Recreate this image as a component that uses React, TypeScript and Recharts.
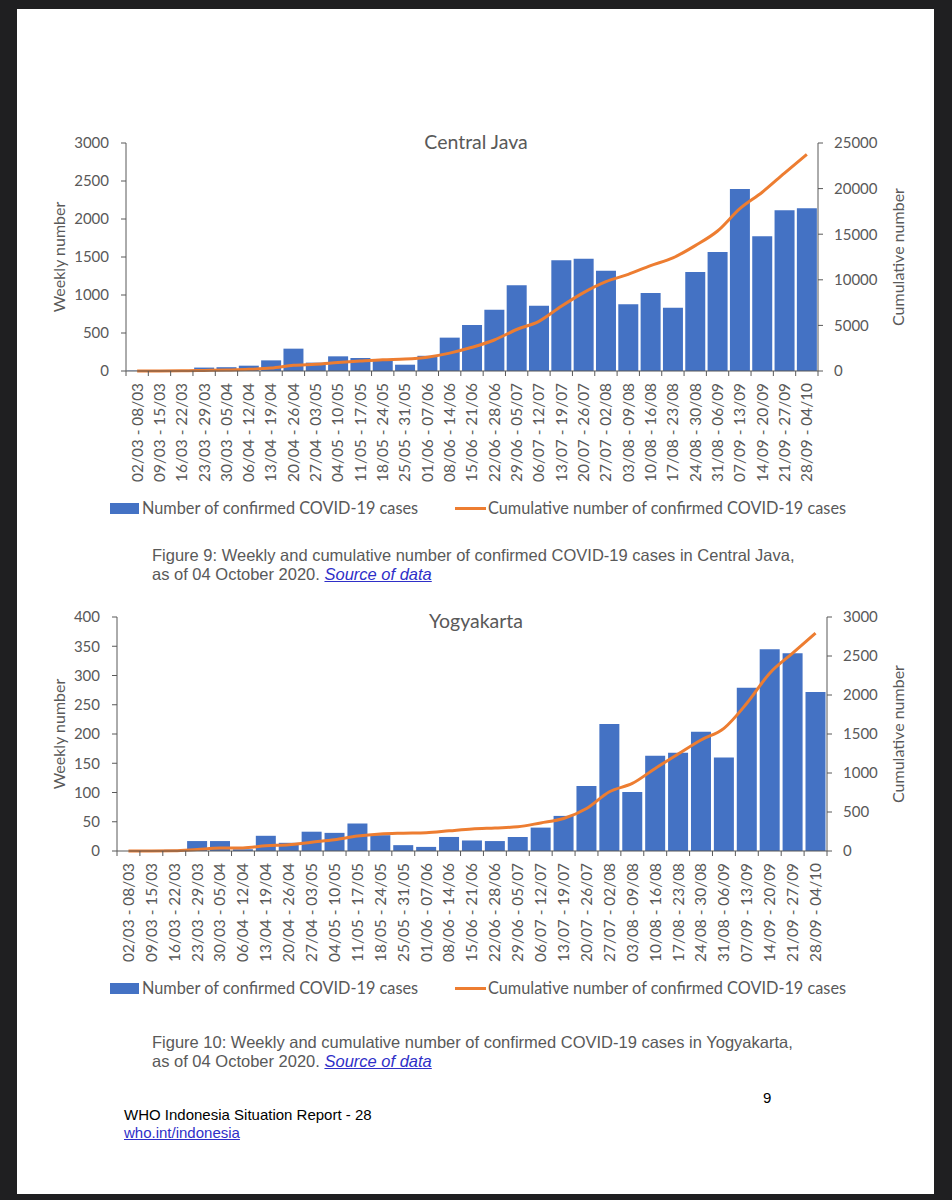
import React from 'react';
import { ComposedChart, Bar, Line, XAxis, YAxis, Label } from 'recharts';

// weekly periods (Monday - Sunday), 2020
const weeks = [
  '02/03 - 08/03', '09/03 - 15/03', '16/03 - 22/03', '23/03 - 29/03', '30/03 - 05/04',
  '06/04 - 12/04', '13/04 - 19/04', '20/04 - 26/04', '27/04 - 03/05', '04/05 - 10/05',
  '11/05 - 17/05', '18/05 - 24/05', '25/05 - 31/05', '01/06 - 07/06', '08/06 - 14/06',
  '15/06 - 21/06', '22/06 - 28/06', '29/06 - 05/07', '06/07 - 12/07', '13/07 - 19/07',
  '20/07 - 26/07', '27/07 - 02/08', '03/08 - 09/08', '10/08 - 16/08', '17/08 - 23/08',
  '24/08 - 30/08', '31/08 - 06/09', '07/09 - 13/09', '14/09 - 20/09', '21/09 - 27/09',
  '28/09 - 04/10',
];

const javaWeekly = [
  5, 3, 5, 45, 50, 70, 140, 294, 110, 193, 171, 150, 83, 200, 439, 605,
  807, 1127, 860, 1456, 1478, 1320, 877, 1026, 833, 1303, 1566, 2395, 1772, 2114, 2140,
];
const javaCumulative = [
  5, 8, 15, 60, 110, 180, 320, 620, 730, 920, 1090, 1240, 1320, 1520, 1960, 2600,
  3400, 4550, 5450, 7100, 8600, 9800, 10600, 11550, 12400, 13750, 15350, 17800, 19600, 21700, 23750,
];

const yogyaWeekly = [
  0, 1, 2, 17, 17, 3, 26, 14, 33, 31, 47, 27, 10, 7, 24, 18,
  17, 24, 40, 60, 111, 217, 101, 163, 168, 204, 160, 279, 345, 338, 272,
];
const yogyaCumulative = [
  0, 1, 3, 20, 37, 40, 66, 80, 113, 144, 191, 218, 228, 235, 259, 283,
  296, 310, 360, 416, 544, 759, 866, 1059, 1243, 1423, 1573, 1894, 2280, 2537, 2794,
];

const javaWeeklyTicks = [0, 500, 1000, 1500, 2000, 2500, 3000];
const javaCumulativeTicks = [0, 5000, 10000, 15000, 20000, 25000];
const yogyaWeeklyTicks = [0, 50, 100, 150, 200, 250, 300, 350, 400];
const yogyaCumulativeTicks = [0, 500, 1000, 1500, 2000, 2500, 3000];

const BLUE = '#4472C4';
const ORANGE = '#ED7D31';
const GREY = '#595959';
const AXIS = '#595959';
const CHART_FONT = 'Lato, Carlito, sans-serif';
const DOC_FONT = '"Liberation Sans", Arial, sans-serif';

const W = 952;
const CHART_H = 380;

const Txt = ({
  x, y, size, color = GREY, font = DOC_FONT, children, style,
}: {
  x: number; y: number; size: number; color?: string; font?: string;
  children: React.ReactNode; style?: React.CSSProperties;
}) => (
  <div
    style={{
      position: 'absolute', left: x, top: y - size * 0.6, lineHeight: `${size * 1.2}px`,
      fontSize: size, fontFamily: font, color, whiteSpace: 'nowrap', ...style,
    }}
  >
    {children}
  </div>
);

const CategoryTick = (props: any) => {
  const { x, y, payload, index, band, count } = props;
  const left = x - band / 2;
  const right = x + band / 2;
  const ty = y + 12;
  return (
    <g>
      <line x1={left} x2={left} y1={y} y2={y + 5} stroke={AXIS} />
      {index === count - 1 && <line x1={right} x2={right} y1={y} y2={y + 5} stroke={AXIS} />}
      <text
        x={x}
        y={ty}
        transform={`rotate(-90 ${x} ${ty})`}
        textAnchor="end"
        dy="0.35em"
        fontSize={15.4}
        fontFamily={CHART_FONT}
        fill={GREY}
      >
        {payload.value}
      </text>
    </g>
  );
};

const sideLabel = (text: string, cx: number) => (
  <Label
    content={({ viewBox }: any) => {
      const cy = viewBox.y + viewBox.height / 2;
      return (
        <text
          x={cx}
          y={cy}
          transform={`rotate(-90 ${cx} ${cy})`}
          textAnchor="middle"
          dominantBaseline="central"
          fontSize={16}
          fontFamily={CHART_FONT}
          fill={GREY}
        >
          {text}
        </text>
      );
    }}
  />
);

interface PanelProps {
  top: number;
  plotTop: number;
  plotLeft: number;
  plotRight: number;
  weekly: number[];
  cumulative: number[];
  leftTicks: number[];
  rightTicks: number[];
  gap: number;
}

// plot area bottom sits 261px below the panel top in both figures
const PLOT_BOTTOM = 261;

const Panel = ({
  top, plotTop, plotLeft, plotRight, weekly, cumulative, leftTicks, rightTicks, gap,
}: PanelProps) => {
  const data = weeks.map((week, i) => ({ week, weekly: weekly[i], cumulative: cumulative[i] }));
  const band = (plotRight - plotLeft) / weeks.length;
  return (
    <div style={{ position: 'absolute', left: 0, top }}>
      <ComposedChart
        width={W}
        height={CHART_H}
        data={data}
        barCategoryGap={gap}
        margin={{ top: plotTop - top, right: 30, bottom: 0, left: 30 }}
      >
        <XAxis
          dataKey="week"
          xAxisId="x"
          interval={0}
          tickSize={0}
          tickMargin={0}
          tickLine={false}
          height={CHART_H - PLOT_BOTTOM}
          axisLine={{ stroke: AXIS }}
          tick={(p: any) => <CategoryTick {...p} band={band} count={weeks.length} />}
        />
        <YAxis
          yAxisId="left"
          orientation="left"
          width={plotLeft - 30}
          domain={[leftTicks[0], leftTicks[leftTicks.length - 1]]}
          ticks={leftTicks}
          interval={0}
          tickSize={5}
          tickMargin={12}
          axisLine={{ stroke: AXIS }}
          tickLine={{ stroke: AXIS }}
          tick={{ fontSize: 15, fontFamily: CHART_FONT, fill: GREY }}
          label={sideLabel('Weekly number', 58)}
        />
        <YAxis
          yAxisId="right"
          orientation="right"
          width={W - plotRight - 30}
          domain={[rightTicks[0], rightTicks[rightTicks.length - 1]]}
          ticks={rightTicks}
          interval={0}
          tickSize={5}
          tickMargin={11}
          axisLine={{ stroke: AXIS }}
          tickLine={{ stroke: AXIS }}
          tick={{ fontSize: 15, fontFamily: CHART_FONT, fill: GREY }}
          label={sideLabel('Cumulative number', 897)}
        />
        <Bar xAxisId="x" yAxisId="left" dataKey="weekly" fill={BLUE} isAnimationActive={false} />
        <Line
          xAxisId="x"
          yAxisId="right"
          dataKey="cumulative"
          type="monotone"
          stroke={ORANGE}
          strokeWidth={3}
          dot={false}
          isAnimationActive={false}
        />
      </ComposedChart>
    </div>
  );
};

const LegendRow = ({ y }: { y: number }) => (
  <>
    <div style={{ position: 'absolute', left: 110, top: y - 5, width: 29, height: 11, background: BLUE }} />
    <Txt x={142} y={y} size={16.3} font={CHART_FONT}>Number of confirmed COVID-19 cases</Txt>
    <div style={{ position: 'absolute', left: 455, top: y - 1.5, width: 31, height: 3, background: ORANGE }} />
    <Txt x={488} y={y} size={16.3} font={CHART_FONT}>Cumulative number of confirmed COVID-19 cases</Txt>
  </>
);

const sourceLink: React.CSSProperties = { color: '#2f2fc8', fontStyle: 'italic', textDecoration: 'underline' };

export default function App() {
  return (
    <div style={{ position: 'absolute', left: 0, top: 0, width: W, height: 1200, background: '#1f1f21', overflow: 'hidden' }}>
      <div style={{ position: 'absolute', left: 17, top: 9, width: 917, height: 1185, background: '#ffffff' }} />

      <Panel
        top={110}
        plotTop={143}
        plotLeft={126}
        plotRight={818}
        weekly={javaWeekly}
        cumulative={javaCumulative}
        leftTicks={javaWeeklyTicks}
        rightTicks={javaCumulativeTicks}
        gap={1.2}
      />
      <Txt x={476} y={142} size={19.5} font={CHART_FONT} style={{ transform: 'translateX(-50%)' }}>Central Java</Txt>
      <LegendRow y={508} />
      <Txt x={152} y={556} size={16.5}>
        Figure 9: Weekly and cumulative number of confirmed COVID-19 cases in Central Java,
      </Txt>
      <Txt x={152} y={575} size={16.5}>
        as of 04 October 2020. <span style={sourceLink}>Source of data</span>
      </Txt>

      <Panel
        top={590}
        plotTop={617}
        plotLeft={117}
        plotRight={827}
        weekly={yogyaWeekly}
        cumulative={yogyaCumulative}
        leftTicks={yogyaWeeklyTicks}
        rightTicks={yogyaCumulativeTicks}
        gap={1.4}
      />
      <Txt x={476} y={621} size={19.5} font={CHART_FONT} style={{ transform: 'translateX(-50%)' }}>Yogyakarta</Txt>
      <LegendRow y={988} />
      <Txt x={152} y={1043} size={16.5}>
        Figure 10: Weekly and cumulative number of confirmed COVID-19 cases in Yogyakarta,
      </Txt>
      <Txt x={152} y={1062} size={16.5}>
        as of 04 October 2020. <span style={sourceLink}>Source of data</span>
      </Txt>

      <Txt x={763} y={1098} size={15} color="#000">9</Txt>
      <Txt x={124} y={1115} size={15} color="#000">WHO Indonesia Situation Report - 28</Txt>
      <Txt x={124} y={1133} size={15} color="#2f2fc8" style={{ textDecoration: 'underline' }}>who.int/indonesia</Txt>
    </div>
  );
}
